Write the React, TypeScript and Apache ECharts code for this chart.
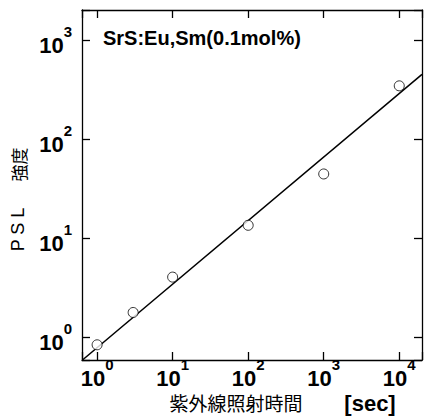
import React, { useEffect, useRef } from 'react';
import * as echarts from 'echarts';

// Data (log-log plot)
const irradiationTimeSec = [1, 3, 10, 100, 1000, 10000];
const pslIntensity = [0.84, 1.78, 4.05, 13.5, 44.5, 345];
const fitLineX = [0.64, 20000];
const fitLineY = [0.59, 450];

const titleText = 'SrS:Eu,Sm(0.1mol%)';
const xNameText = '紫外線照射時間';
const xUnitText = '[sec]';
const yNamePSL = 'P S L';
const yNameCJK = '強度';

const LATIN = '"Liberation Sans", Arial, Helvetica, sans-serif';
const CJK = '"Noto Sans CJK JP", "Noto Sans CJK SC", sans-serif';

const fmt = (v: number) => {
  const e = Math.log10(v);
  const r = Math.round(e);
  if (Math.abs(e - r) > 1e-6) return '';
  return `{b|10}{s|${r}}`;
};

const rich = {
  b: { fontSize: 22, fontWeight: 'bold', fontFamily: LATIN, lineHeight: 32, color: '#000', verticalAlign: 'bottom' },
  s: { fontSize: 15, fontWeight: 'bold', fontFamily: LATIN, lineHeight: 15, color: '#000', verticalAlign: 'top' },
};

const axisLineStyle = { color: '#000', width: 1.3 };

export default function App() {
  const ref = useRef<HTMLDivElement>(null);
  useEffect(() => {
    if (!ref.current) return;
    const chart = echarts.init(ref.current, undefined, { renderer: 'svg' });
    const scatterData = irradiationTimeSec.map((x, i) => [x, pslIntensity[i]]);
    const lineData = fitLineX.map((x, i) => [x, fitLineY[i]]);
    const baseX = {
      type: 'log' as const,
      logBase: 10,
      min: 0.631,
      max: 20000,
      splitLine: { show: false },
      minorTick: { show: false },
      axisLine: { show: true, lineStyle: axisLineStyle },
      axisTick: { show: true, inside: true, length: 8, lineStyle: axisLineStyle },
    };
    const baseY = {
      type: 'log' as const,
      logBase: 10,
      min: 0.59,
      max: 2010,
      splitLine: { show: false },
      minorTick: { show: false },
      axisLine: { show: true, lineStyle: axisLineStyle },
      axisTick: { show: true, inside: true, length: 8, lineStyle: axisLineStyle },
    };
    chart.setOption({
      animation: false,
      backgroundColor: '#fff',
      grid: { left: 82, top: 10, width: 344, height: 350, containLabel: false },
      xAxis: [
        {
          ...baseX,
          position: 'bottom',
          axisLabel: { show: true, margin: -3, formatter: fmt, rich, showMinLabel: true, showMaxLabel: true },
        },
        {
          ...baseX,
          position: 'top',
          axisLabel: { show: false },
        },
      ],
      yAxis: [
        {
          ...baseY,
          position: 'left',
          axisLabel: { show: true, margin: 10, formatter: fmt, rich },
        },
        {
          ...baseY,
          position: 'right',
          axisLabel: { show: false },
        },
      ],
      series: [
        {
          type: 'line',
          data: lineData,
          showSymbol: false,
          symbol: 'none',
          clip: true,
          lineStyle: { color: '#000', width: 1.5 },
          z: 2,
        },
        {
          type: 'scatter',
          data: scatterData,
          symbol: 'circle',
          symbolSize: 10,
          itemStyle: { color: '#fff', borderColor: '#000', borderWidth: 1 },
          z: 3,
        },
      ],
      graphic: [
        {
          type: 'text',
          x: 103,
          y: 37.5,
          style: { text: titleText, font: `bold 20px ${LATIN}`, fill: '#000', textAlign: 'left', textVerticalAlign: 'middle' },
        },
        {
          type: 'text',
          x: 236,
          y: 402,
          style: { text: xNameText, font: `19px ${CJK}`, fill: '#000', textAlign: 'center', textVerticalAlign: 'middle' },
        },
        {
          type: 'text',
          x: 370,
          y: 403,
          style: { text: xUnitText, font: `bold 22px ${LATIN}`, fill: '#000', textAlign: 'center', textVerticalAlign: 'middle' },
        },
        {
          type: 'text',
          x: 18,
          y: 229.5,
          rotation: Math.PI / 2,
          style: { text: yNamePSL, font: `18px ${LATIN}`, fill: '#000', textAlign: 'center', textVerticalAlign: 'middle' },
        },
        {
          type: 'text',
          x: 18,
          y: 164.5,
          rotation: Math.PI / 2,
          style: { text: yNameCJK, font: `17px ${CJK}`, fill: '#000', textAlign: 'center', textVerticalAlign: 'middle' },
        },
      ],
    });
    return () => chart.dispose();
  }, []);
  return (
    <div
      ref={ref}
      style={{ position: 'fixed', left: 0, top: 0, width: 425, height: 416, background: '#fff' }}
    />
  );
}
